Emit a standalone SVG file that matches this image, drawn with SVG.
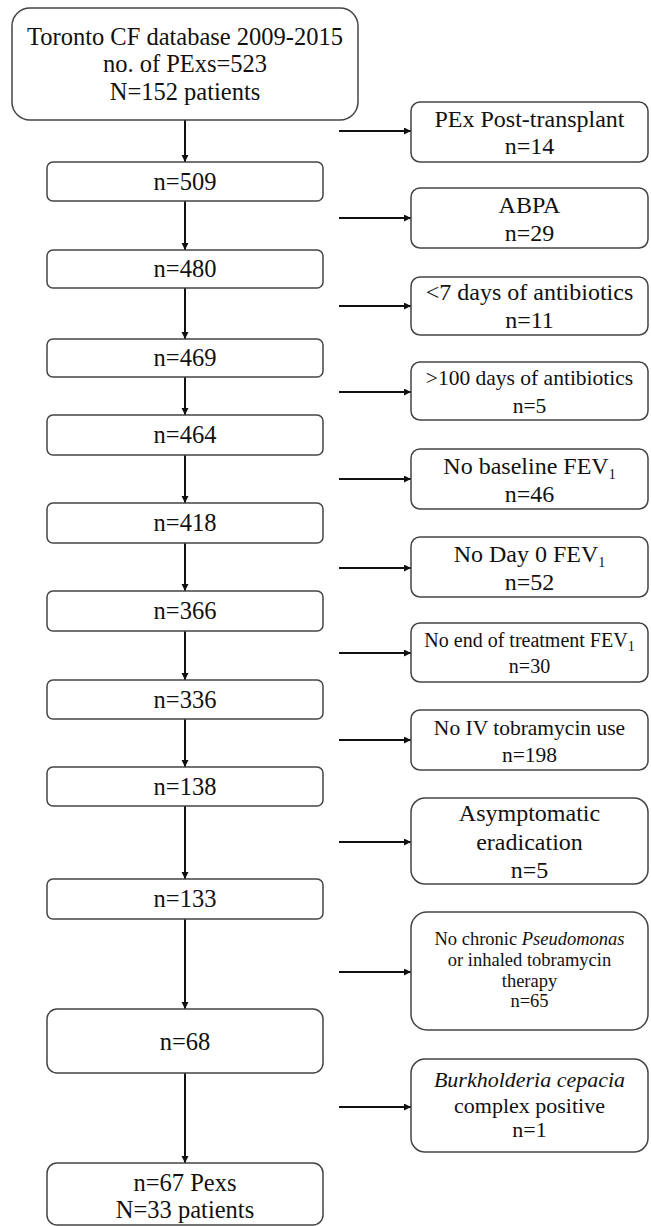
<svg xmlns="http://www.w3.org/2000/svg" width="651" height="1226" viewBox="0 0 651 1226" font-family="Liberation Serif, Times New Roman, Times, DejaVu Serif, serif">
<defs>
<marker id="ah" markerUnits="userSpaceOnUse" markerWidth="8" markerHeight="8" refX="7" refY="3.5" orient="auto">
<path d="M0,0 L7,3.5 L0,7 Z" fill="#111"/>
</marker>
<style>
.box{fill:#fff;stroke:#444;stroke-width:1.5}
.t{font-size:24px;fill:#111;text-anchor:middle}
.m{font-size:24.5px}
.s22{font-size:22px}
.s21{font-size:21.5px}
.s20{font-size:20px}
.s19{font-size:18.5px}
.sub{font-size:14px}
.i{font-style:italic}
.c{stroke:#111;stroke-width:2;fill:none;marker-end:url(#ah)}
</style>
</defs>
<rect width="651" height="1226" fill="#fff"/>
<g id="connectors">
<path class="c" d="M185,120 V162"/>
<path class="c" d="M185,201 V250"/>
<path class="c" d="M185,288 V339"/>
<path class="c" d="M185,377 V415"/>
<path class="c" d="M185,455 V503"/>
<path class="c" d="M185,543 V591"/>
<path class="c" d="M185,631 V680"/>
<path class="c" d="M185,719 V767"/>
<path class="c" d="M185,806 V879"/>
<path class="c" d="M185,919 V1009"/>
<path class="c" d="M185,1073 V1163"/>
<path class="c" d="M339,131 H411"/>
<path class="c" d="M339,218 H411"/>
<path class="c" d="M339,306 H411"/>
<path class="c" d="M339,392 H411"/>
<path class="c" d="M339,479 H411"/>
<path class="c" d="M339,568 H411"/>
<path class="c" d="M339,653 H411"/>
<path class="c" d="M339,740 H411"/>
<path class="c" d="M339,842 H411"/>
<path class="c" d="M339,972 H411"/>
<path class="c" d="M339,1107 H411"/>
</g>
<g id="n-start">
<rect class="box" x="12" y="8" width="346" height="112" rx="18"/>
<text class="t m" x="185" y="45">Toronto CF database 2009-2015</text>
<text class="t m" x="185" y="72">no. of PExs=523</text>
<text class="t m" x="185" y="100">N=152 patients</text>
</g>
<g id="n509"><rect class="box" x="47" y="162" width="276" height="39" rx="6"/><text class="t m" x="185" y="190">n=509</text></g>
<g id="n480"><rect class="box" x="47" y="250" width="276" height="38" rx="6"/><text class="t m" x="185" y="277">n=480</text></g>
<g id="n469"><rect class="box" x="47" y="339" width="276" height="38" rx="6"/><text class="t m" x="185" y="366">n=469</text></g>
<g id="n464"><rect class="box" x="47" y="415" width="276" height="40" rx="6"/><text class="t m" x="185" y="443">n=464</text></g>
<g id="n418"><rect class="box" x="47" y="503" width="276" height="40" rx="6"/><text class="t m" x="185" y="531">n=418</text></g>
<g id="n366"><rect class="box" x="47" y="591" width="276" height="40" rx="6"/><text class="t m" x="185" y="619">n=366</text></g>
<g id="n336"><rect class="box" x="47" y="680" width="276" height="39" rx="6"/><text class="t m" x="185" y="708">n=336</text></g>
<g id="n138"><rect class="box" x="47" y="767" width="276" height="39" rx="6"/><text class="t m" x="185" y="795">n=138</text></g>
<g id="n133"><rect class="box" x="47" y="879" width="276" height="40" rx="6"/><text class="t m" x="185" y="907">n=133</text></g>
<g id="n68"><rect class="box" x="47" y="1009" width="276" height="64" rx="10"/><text class="t m" x="185" y="1050">n=68</text></g>
<g id="n-final"><rect class="box" x="47" y="1163" width="276" height="62" rx="10"/><text class="t m" x="185" y="1191">n=67 Pexs</text><text class="t m" x="185" y="1218">N=33 patients</text></g>
<g id="x-transplant"><rect class="box" x="411" y="102" width="237" height="60" rx="9"/><text class="t" x="529.5" y="127">PEx Post-transplant</text><text class="t" x="529.5" y="154">n=14</text></g>
<g id="x-abpa"><rect class="box" x="411" y="188" width="237" height="60" rx="9"/><text class="t" x="529.5" y="213">ABPA</text><text class="t" x="529.5" y="241">n=29</text></g>
<g id="x-lt7"><rect class="box" x="411" y="277" width="237" height="58" rx="9"/><text class="t" x="529.5" y="300">&lt;7 days of antibiotics</text><text class="t" x="529.5" y="328">n=11</text></g>
<g id="x-gt100"><rect class="box" x="411" y="362" width="237" height="58" rx="9"/><text class="t s21" x="529.5" y="385">&gt;100 days of antibiotics</text><text class="t s21" x="529.5" y="413">n=5</text></g>
<g id="x-baseline"><rect class="box" x="411" y="449" width="237" height="60" rx="9"/><text class="t" x="529.5" y="474">No baseline FEV<tspan class="sub" dy="5">1</tspan></text><text class="t" x="529.5" y="502">n=46</text></g>
<g id="x-day0"><rect class="box" x="411" y="537" width="237" height="60" rx="9"/><text class="t" x="529.5" y="562">No Day 0 FEV<tspan class="sub" dy="5">1</tspan></text><text class="t" x="529.5" y="590">n=52</text></g>
<g id="x-eot"><rect class="box" x="411" y="623" width="237" height="59" rx="9"/><text class="t s20" x="529.5" y="647">No end of treatment FEV<tspan class="sub" dy="4">1</tspan></text><text class="t s20" x="529.5" y="673">n=30</text></g>
<g id="x-iv"><rect class="box" x="411" y="710" width="237" height="60" rx="9"/><text class="t s21" x="529.5" y="735">No IV tobramycin use</text><text class="t s21" x="529.5" y="762">n=198</text></g>
<g id="x-asymp"><rect class="box" x="411" y="798" width="237" height="86" rx="14"/><text class="t" x="529.5" y="821">Asymptomatic</text><text class="t" x="529.5" y="850">eradication</text><text class="t" x="529.5" y="878">n=5</text></g>
<g id="x-pseudo"><rect class="box" x="411" y="912" width="237" height="118" rx="16"/><text class="t s19" x="529.5" y="945">No chronic <tspan class="i">Pseudomonas</tspan></text><text class="t s19" x="529.5" y="966">or inhaled tobramycin</text><text class="t s19" x="529.5" y="987">therapy</text><text class="t s19" x="529.5" y="1007">n=65</text></g>
<g id="x-burk"><rect class="box" x="411" y="1059" width="237" height="93" rx="14"/><text class="t s22" x="529.5" y="1087"><tspan class="i">Burkholderia cepacia</tspan></text><text class="t s22" x="529.5" y="1113">complex positive</text><text class="t s22" x="529.5" y="1137">n=1</text></g>
</svg>
